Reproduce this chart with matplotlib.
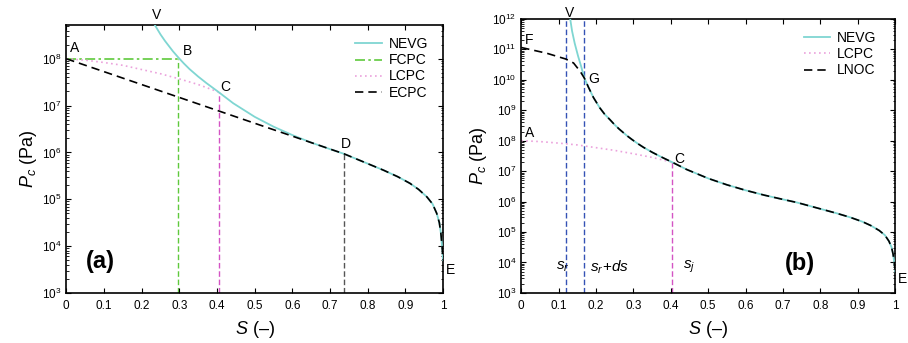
import numpy as np
import matplotlib
matplotlib.use("Agg")
from matplotlib import pyplot as plt
from matplotlib.ticker import LogLocator, LogFormatterMathtext, NullFormatter

plt.rcParams['font.family'] = ['Liberation Sans', 'DejaVu Sans']
plt.rcParams['mathtext.fontset'] = 'custom'
plt.rcParams['mathtext.rm'] = 'Liberation Sans'
plt.rcParams['mathtext.it'] = 'Liberation Sans:italic'
plt.rcParams['mathtext.bf'] = 'Liberation Sans:bold'

########################## values ##########################
# NEVG curve (same in both panels), log10 of Pc
nevg_s = [0.131, 0.136, 0.143, 0.152, 0.160, 0.169, 0.180, 0.193, 0.210, 0.223, 0.238,
          0.250, 0.262, 0.283, 0.297, 0.312, 0.327, 0.350, 0.372, 0.404, 0.443,
          0.50, 0.55, 0.60, 0.65, 0.70, 0.737, 0.80, 0.842, 0.88, 0.912, 0.935,
          0.957, 0.972, 0.983, 0.990, 0.994, 0.997, 1.0]
nevg_logp = [12.0, 11.6, 11.2, 10.78, 10.45, 10.05, 9.75, 9.42, 9.08, 8.87, 8.68,
             8.52, 8.38, 8.16, 8.03, 7.90, 7.78, 7.62, 7.48, 7.29, 7.05,
             6.76, 6.55, 6.37, 6.21, 6.07, 5.97, 5.76, 5.62, 5.48, 5.34, 5.21,
             5.05, 4.90, 4.70, 4.50, 4.28, 4.02, 3.70]

# panel (a)
fcpc_s = [0.0, 0.297]
fcpc_logp = [8.0, 8.0]
lcpc_s = [0.0, 0.05, 0.10, 0.15, 0.20, 0.25, 0.30, 0.35, 0.404]
lcpc_logp = [8.0, 7.97, 7.92, 7.86, 7.77, 7.68, 7.57, 7.45, 7.29]
ecpc_s = [0.0, 0.737]
ecpc_logp = [8.0, 5.97]
s_b, s_c, s_d = 0.297, 0.404, 0.737

# panel (b)
lnoc_s = [0.0, 0.0686, 0.1195, 0.14, 0.158, 0.169]
lnoc_logp = [11.06, 10.87, 10.68, 10.55, 10.27, 10.05]
s_r, s_rds, s_j = 0.1195, 0.1685, 0.404

tick_x = [0, 0.1, 0.2, 0.3, 0.4, 0.5, 0.6, 0.7, 0.8, 0.9, 1]
tick_x_labels = ["0", "0.1", "0.2", "0.3", "0.4", "0.5", "0.6", "0.7", "0.8", "0.9", "1"]
#################################################################################

c_nevg = "#7fd6d2"
c_fcpc = "#5fc93c"
c_lcpc = "#eba2dc"
c_mag = "#d454c4"
c_blue = "#3552b5"

nevg_s = np.array(nevg_s)
nevg_p = 10 ** np.array(nevg_logp)


def tail(s0):
    m = nevg_s > s0
    return list(nevg_s[m]), list(nevg_p[m])


def style_axes(ax, ymin, ymax):
    ax.set_yscale("log")
    ax.set_xlim(0, 1)
    ax.set_ylim(ymin, ymax)
    ax.set_xticks(tick_x)
    ax.set_xticklabels(tick_x_labels)
    ax.yaxis.set_major_locator(LogLocator(base=10, numticks=20))
    ax.yaxis.set_major_formatter(LogFormatterMathtext())
    ax.yaxis.set_minor_locator(LogLocator(base=10, subs=np.arange(2, 10), numticks=50))
    ax.yaxis.set_minor_formatter(NullFormatter())
    ax.tick_params(which="both", direction="in", top=True, right=True, labelsize=8.5)
    ax.tick_params(which="major", length=3.5, width=0.8)
    ax.tick_params(which="minor", length=1.8, width=0.6)
    ax.tick_params(axis="x", pad=5)
    for sp in ax.spines.values():
        sp.set_linewidth(1.2)
    ax.set_xlabel(r"$S$ (–)", fontsize=13, labelpad=5)
    ax.set_ylabel(r"$P_c$ (Pa)", fontsize=13, labelpad=2)


fig = plt.figure(figsize=(9.08, 3.43), dpi=100)
ax1 = fig.add_axes([0.073, 0.146, 0.415, 0.781])
ax2 = fig.add_axes([0.574, 0.146, 0.412, 0.799])

# ---------------- (a) ----------------
ax1.plot(nevg_s, nevg_p, color=c_nevg, lw=1.3, label="NEVG", zorder=3)
ax1.plot(fcpc_s, 10 ** np.array(fcpc_logp), color=c_fcpc, lw=1.2, ls=(0, (6, 2, 1.5, 2)), label="FCPC", zorder=2)
ax1.plot(lcpc_s, 10 ** np.array(lcpc_logp), color=c_lcpc, lw=1.2, ls=(0, (1, 2)), label="LCPC", zorder=2)
ts, tp = tail(ecpc_s[-1])
ax1.plot(ecpc_s + ts, list(10 ** np.array(ecpc_logp)) + tp, color="black", lw=1.2, ls=(0, (5, 3)),
         label="ECPC", zorder=4)
ax1.plot([s_b, s_b], [1e3, 1e8], color=c_fcpc, lw=1.0, ls=(0, (4, 2)), zorder=1)
ax1.plot([s_c, s_c], [1e3, 10 ** 7.29], color=c_mag, lw=1.0, ls=(0, (4, 2)), zorder=1)
ax1.plot([s_d, s_d], [1e3, 10 ** 5.97], color="#555555", lw=1.0, ls=(0, (4, 2)), zorder=1)
style_axes(ax1, 1e3, 10 ** 8.72)

lab = dict(fontsize=10)
ax1.text(0.24, 1.01, "V", transform=ax1.get_xaxis_transform(), ha="center", va="bottom", **lab)
ax1.text(0.01, 10 ** 8.24, "A", ha="left", va="center", **lab)
ax1.text(0.321, 10 ** 8.17, "B", ha="center", va="center", **lab)
ax1.text(0.421, 10 ** 7.39, "C", ha="center", va="center", **lab)
ax1.text(0.742, 10 ** 6.17, "D", ha="center", va="center", **lab)
ax1.text(1.008, 10 ** 3.48, "E", ha="left", va="center", **lab)
ax1.text(0.09, 10 ** 3.67, "(a)", ha="center", va="center", fontsize=17, fontweight="bold")
ax1.legend(loc="upper right", bbox_to_anchor=(0.975, 0.975), frameon=False, fontsize=10,
           handlelength=1.9, handletextpad=0.5, labelspacing=0.15, borderaxespad=0)

# ---------------- (b) ----------------
ax2.plot(nevg_s, nevg_p, color=c_nevg, lw=1.3, label="NEVG", zorder=3)
ax2.plot(lcpc_s, 10 ** np.array(lcpc_logp), color=c_lcpc, lw=1.2, ls=(0, (1, 2)), label="LCPC", zorder=2)
ts, tp = tail(lnoc_s[-1])
ax2.plot(lnoc_s + ts, list(10 ** np.array(lnoc_logp)) + tp, color="black", lw=1.2, ls=(0, (5, 3)),
         label="LNOC", zorder=4)
ax2.axvline(s_r, color=c_blue, lw=1.0, ls=(0, (4, 2)), zorder=1)
ax2.axvline(s_rds, color=c_blue, lw=1.0, ls=(0, (4, 2)), zorder=1)
ax2.plot([s_j, s_j], [1e3, 10 ** 7.29], color=c_mag, lw=1.0, ls=(0, (4, 2)), zorder=1)
style_axes(ax2, 1e3, 1e12)

ax2.text(0.130, 0.995, "V", transform=ax2.get_xaxis_transform(), ha="center", va="bottom", **lab)
ax2.text(0.01, 10 ** 11.31, "F", ha="left", va="center", **lab)
ax2.text(0.193, 10 ** 10.02, "G", ha="center", va="center", **lab)
ax2.text(0.01, 10 ** 8.24, "A", ha="left", va="center", **lab)
ax2.text(0.422, 10 ** 7.39, "C", ha="center", va="center", **lab)
ax2.text(1.008, 10 ** 3.47, "E", ha="left", va="center", **lab)
ax2.text(0.11, 10 ** 3.85, r"$s_r$", ha="center", va="center", fontsize=11)
ax2.text(0.237, 10 ** 3.85, r"$s_r\!+\!ds$", ha="center", va="center", fontsize=11)
ax2.text(0.449, 10 ** 3.85, r"$s_j$", ha="center", va="center", fontsize=11)
ax2.text(0.744, 10 ** 3.96, "(b)", ha="center", va="center", fontsize=17, fontweight="bold")
ax2.legend(loc="upper right", bbox_to_anchor=(0.965, 0.975), frameon=False, fontsize=10,
           handlelength=1.9, handletextpad=0.5, labelspacing=0.15, borderaxespad=0)

fig.savefig("out.png", dpi=100)
